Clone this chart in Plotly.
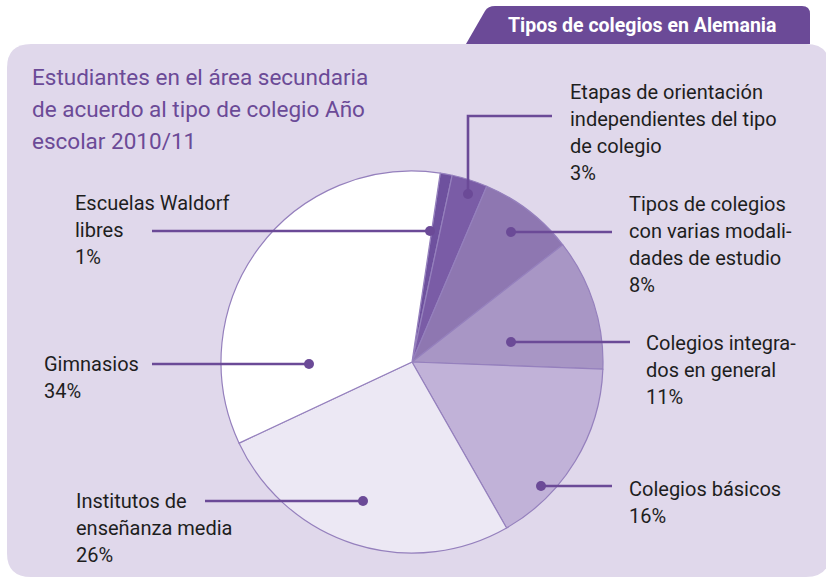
import plotly.graph_objects as go

# ---- data ----
categories = [
    "Escuelas Waldorf libres",
    "Etapas de orientación independientes del tipo de colegio",
    "Tipos de colegios con varias modalidades de estudio",
    "Colegios integrados en general",
    "Colegios básicos",
    "Institutos de enseñanza media",
    "Gimnasios",
]
values = [1, 3, 8, 11, 16, 26, 34]
slice_colors = ["#6E519E", "#7A5CA6", "#8E77B1", "#A896C5", "#C1B2D8", "#ECE8F4", "#FFFFFF"]

title_tab = "Tipos de colegios en Alemania"
subtitle_lines = ["Estudiantes en el área secundaria", "de acuerdo al tipo de colegio Año", "escolar 2010/11"]

label_lines = [
    ["Escuelas Waldorf", "libres"],
    ["Etapas de orientación", "independientes del tipo", "de colegio"],
    ["Tipos de colegios", "con varias modali-", "dades de estudio"],
    ["Colegios integra-", "dos en general"],
    ["Colegios básicos"],
    ["Institutos de", "enseñanza media"],
    ["Gimnasios"],
]

# ---- layout helpers (pixel coords) ----
W, H = 826, 579
PURPLE = "#6B4A97"
PANEL = "#E0D8EB"
TEXT = "#1E1E1E"
cx, cy, r = 412, 362, 191

# label text anchor (x, y of first line), leader path points (last point = dot)
label_pos = [(73, 203), (568, 92), (627, 204), (644, 343), (627, 489), (74, 501), (42, 364)]
leaders = [
    [(152, 231), (430, 231)],
    [(552, 116), (468, 116), (468, 194)],
    [(612, 232), (511, 232)],
    [(630, 342), (511, 342)],
    [(612, 486), (541, 486)],
    [(205, 501), (363, 501)],
    [(152, 364), (309, 364)],
]
line_gap = 27

fig = go.Figure()

fig.add_trace(go.Pie(
    labels=categories, values=values, sort=False, direction="clockwise", rotation=8.5,
    marker=dict(colors=slice_colors, line=dict(color="#9580BD", width=1.2)),
    textinfo="none", hoverinfo="label+percent", showlegend=False,
    domain=dict(x=[(cx - r) / W, (cx + r) / W], y=[1 - (cy + r) / H, 1 - (cy - r) / H]),
))

shapes = []
# panel
R = 24
x0, x1, y0, y1 = 7, 830, 44, 577
shapes.append(dict(
    type="path", xref="x", yref="y", layer="below", fillcolor=PANEL, line=dict(width=0),
    path=(f"M {x0+R} {y0} L {x1-R} {y0} Q {x1} {y0} {x1} {y0+R} L {x1} {y1-R} Q {x1} {y1} {x1-R} {y1} "
          f"L {x0+R} {y1} Q {x0} {y1} {x0} {y1-R} L {x0} {y0+R} Q {x0} {y0} {x0+R} {y0} Z"),
))
# tab
shapes.append(dict(
    type="path", xref="x", yref="y", layer="below", fillcolor=PURPLE, line=dict(width=0),
    path="M 466 44 L 485 11 Q 488 6 495 6 L 802 6 Q 810 6 810 14 L 810 44 Z",
))
# leaders
for pts in leaders:
    p = "M " + " L ".join(f"{x} {y}" for x, y in pts)
    shapes.append(dict(type="path", xref="x", yref="y", layer="above", path=p,
                       line=dict(color=PURPLE, width=2.6)))
    dx, dy = pts[-1]
    shapes.append(dict(type="circle", xref="x", yref="y", layer="above",
                       x0=dx - 5, x1=dx + 5, y0=dy - 5, y1=dy + 5,
                       fillcolor=PURPLE, line=dict(width=0)))

annotations = []
annotations.append(dict(x=642, y=25, xref="x", yref="y", text=f"<b>{title_tab}</b>", showarrow=False,
                        xanchor="center", yanchor="middle",
                        font=dict(family="Roboto", size=19.5, color="white")))
for i, t in enumerate(subtitle_lines):
    annotations.append(dict(x=30, y=77 + i * 32, xref="x", yref="y", text=t, showarrow=False,
                            xanchor="left", yanchor="middle",
                            font=dict(family="Roboto", size=22.5, color=PURPLE)))
for lines, (lx, ly), v in zip(label_lines, label_pos, values):
    for i, t in enumerate(lines + [f"{v}%"]):
        annotations.append(dict(x=lx, y=ly + i * line_gap, xref="x", yref="y", text=t, showarrow=False,
                                xanchor="left", yanchor="middle",
                                font=dict(family="Roboto", size=20, color=TEXT)))

fig.update_layout(
    width=W, height=H, margin=dict(l=0, r=0, t=0, b=0),
    paper_bgcolor="white", plot_bgcolor="white",
    xaxis=dict(range=[0, W], visible=False, fixedrange=True),
    yaxis=dict(range=[H, 0], visible=False, fixedrange=True),
    shapes=shapes, annotations=annotations, showlegend=False,
)

fig.write_html("out.html", config={"displayModeBar": False},
               post_script="document.body.style.margin='0';document.body.style.overflow='hidden';")
